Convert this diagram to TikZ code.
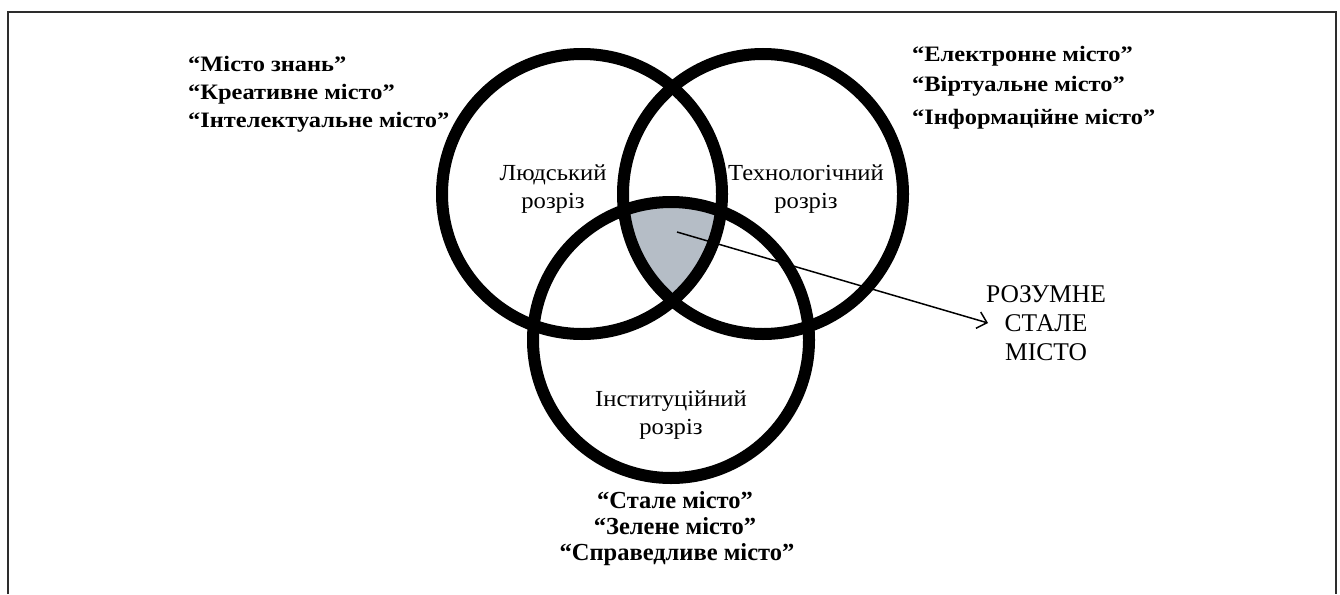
\documentclass[tikz,border=0pt]{standalone}
\usepackage{fontspec}
\setmainfont{Liberation Serif}
\newfontfamily\labfont{Liberation Serif}[FakeStretch=1.07]
\newfontfamily\listfont{Liberation Serif}[FakeStretch=1.11]
\usetikzlibrary{arrows.meta}
\definecolor{coreshade}{RGB}{181,189,198}
\definecolor{framegray}{RGB}{45,45,45}
\begin{document}
\begin{tikzpicture}[x=1pt,y=-1pt,
  ring/.style={draw=black, line width=12pt, circle, inner sep=0pt},
  lbl/.style={font=\labfont\fontsize{23}{28}\selectfont, inner sep=0pt, align=center, anchor=base},
  res/.style={font=\fontsize{25.5}{29}\selectfont, inner sep=0pt, align=center, anchor=base},
  lst/.style={font=\listfont\bfseries\fontsize{22}{25}\selectfont, inner sep=0pt, anchor=base west},
  blst/.style={font=\bfseries\fontsize{24.5}{25}\selectfont, inner sep=0pt, anchor=base},
  pointer/.style={line width=1.5pt, -{Straight Barb[length=9pt,width=17pt,line width=1.5pt]}}
]
\useasboundingbox (0,0) rectangle (1340,594);
% frame
\draw[framegray, line width=2pt] (8,594) -- (8,12.5) -- (1336,12.5) -- (1336,594);

\coordinate (cL) at (582,194);
\coordinate (cR) at (763,194);
\coordinate (cB) at (671,340);

% shaded common area
\begin{scope}
  \clip (cL) circle[radius=140pt];
  \clip (cR) circle[radius=140pt];
  \fill[coreshade] (cB) circle[radius=138pt];
\end{scope}

% rings
\node[ring, minimum size=280pt] (human) at (cL) {};
\node[ring, minimum size=280pt] (tech) at (cR) {};
\node[ring, minimum size=276pt] (inst) at (cB) {};

% arrow
\coordinate (core) at (677,232);
\coordinate (tip) at (988,323);
\draw[pointer] (core) -- (tip);

% circle labels (base = baseline of last line)
\node[lbl] (lh) at (553,208) {Людський\\розріз};
\node[lbl] (lt) at (806,208) {Технологічний\\розріз};
\node[lbl] (li) at (671,434) {Інституційний\\розріз};

% result
\node[res] (smart) at (1046,360) {РОЗУМНЕ\\СТАЛЕ\\МІСТО};

% left list
\node[lst] (l1) at (188,71) {“Місто знань”};
\node[lst] (l2) at (188,99) {“Креативне місто”};
\node[lst] (l3) at (188,127) {“Інтелектуальне місто”};

% right list
\node[lst] (r1) at (912,61) {“Електронне місто”};
\node[lst] (r2) at (912,92) {“Віртуальне місто”};
\node[lst] (r3) at (912,124) {“Інформаційне місто”};

% bottom list
\node[blst] (b1) at (675,508) {“Стале місто”};
\node[blst] (b2) at (675,534) {“Зелене місто”};
\node[blst] (b3) at (677,560) {“Справедливе місто”};
\end{tikzpicture}
\end{document}
